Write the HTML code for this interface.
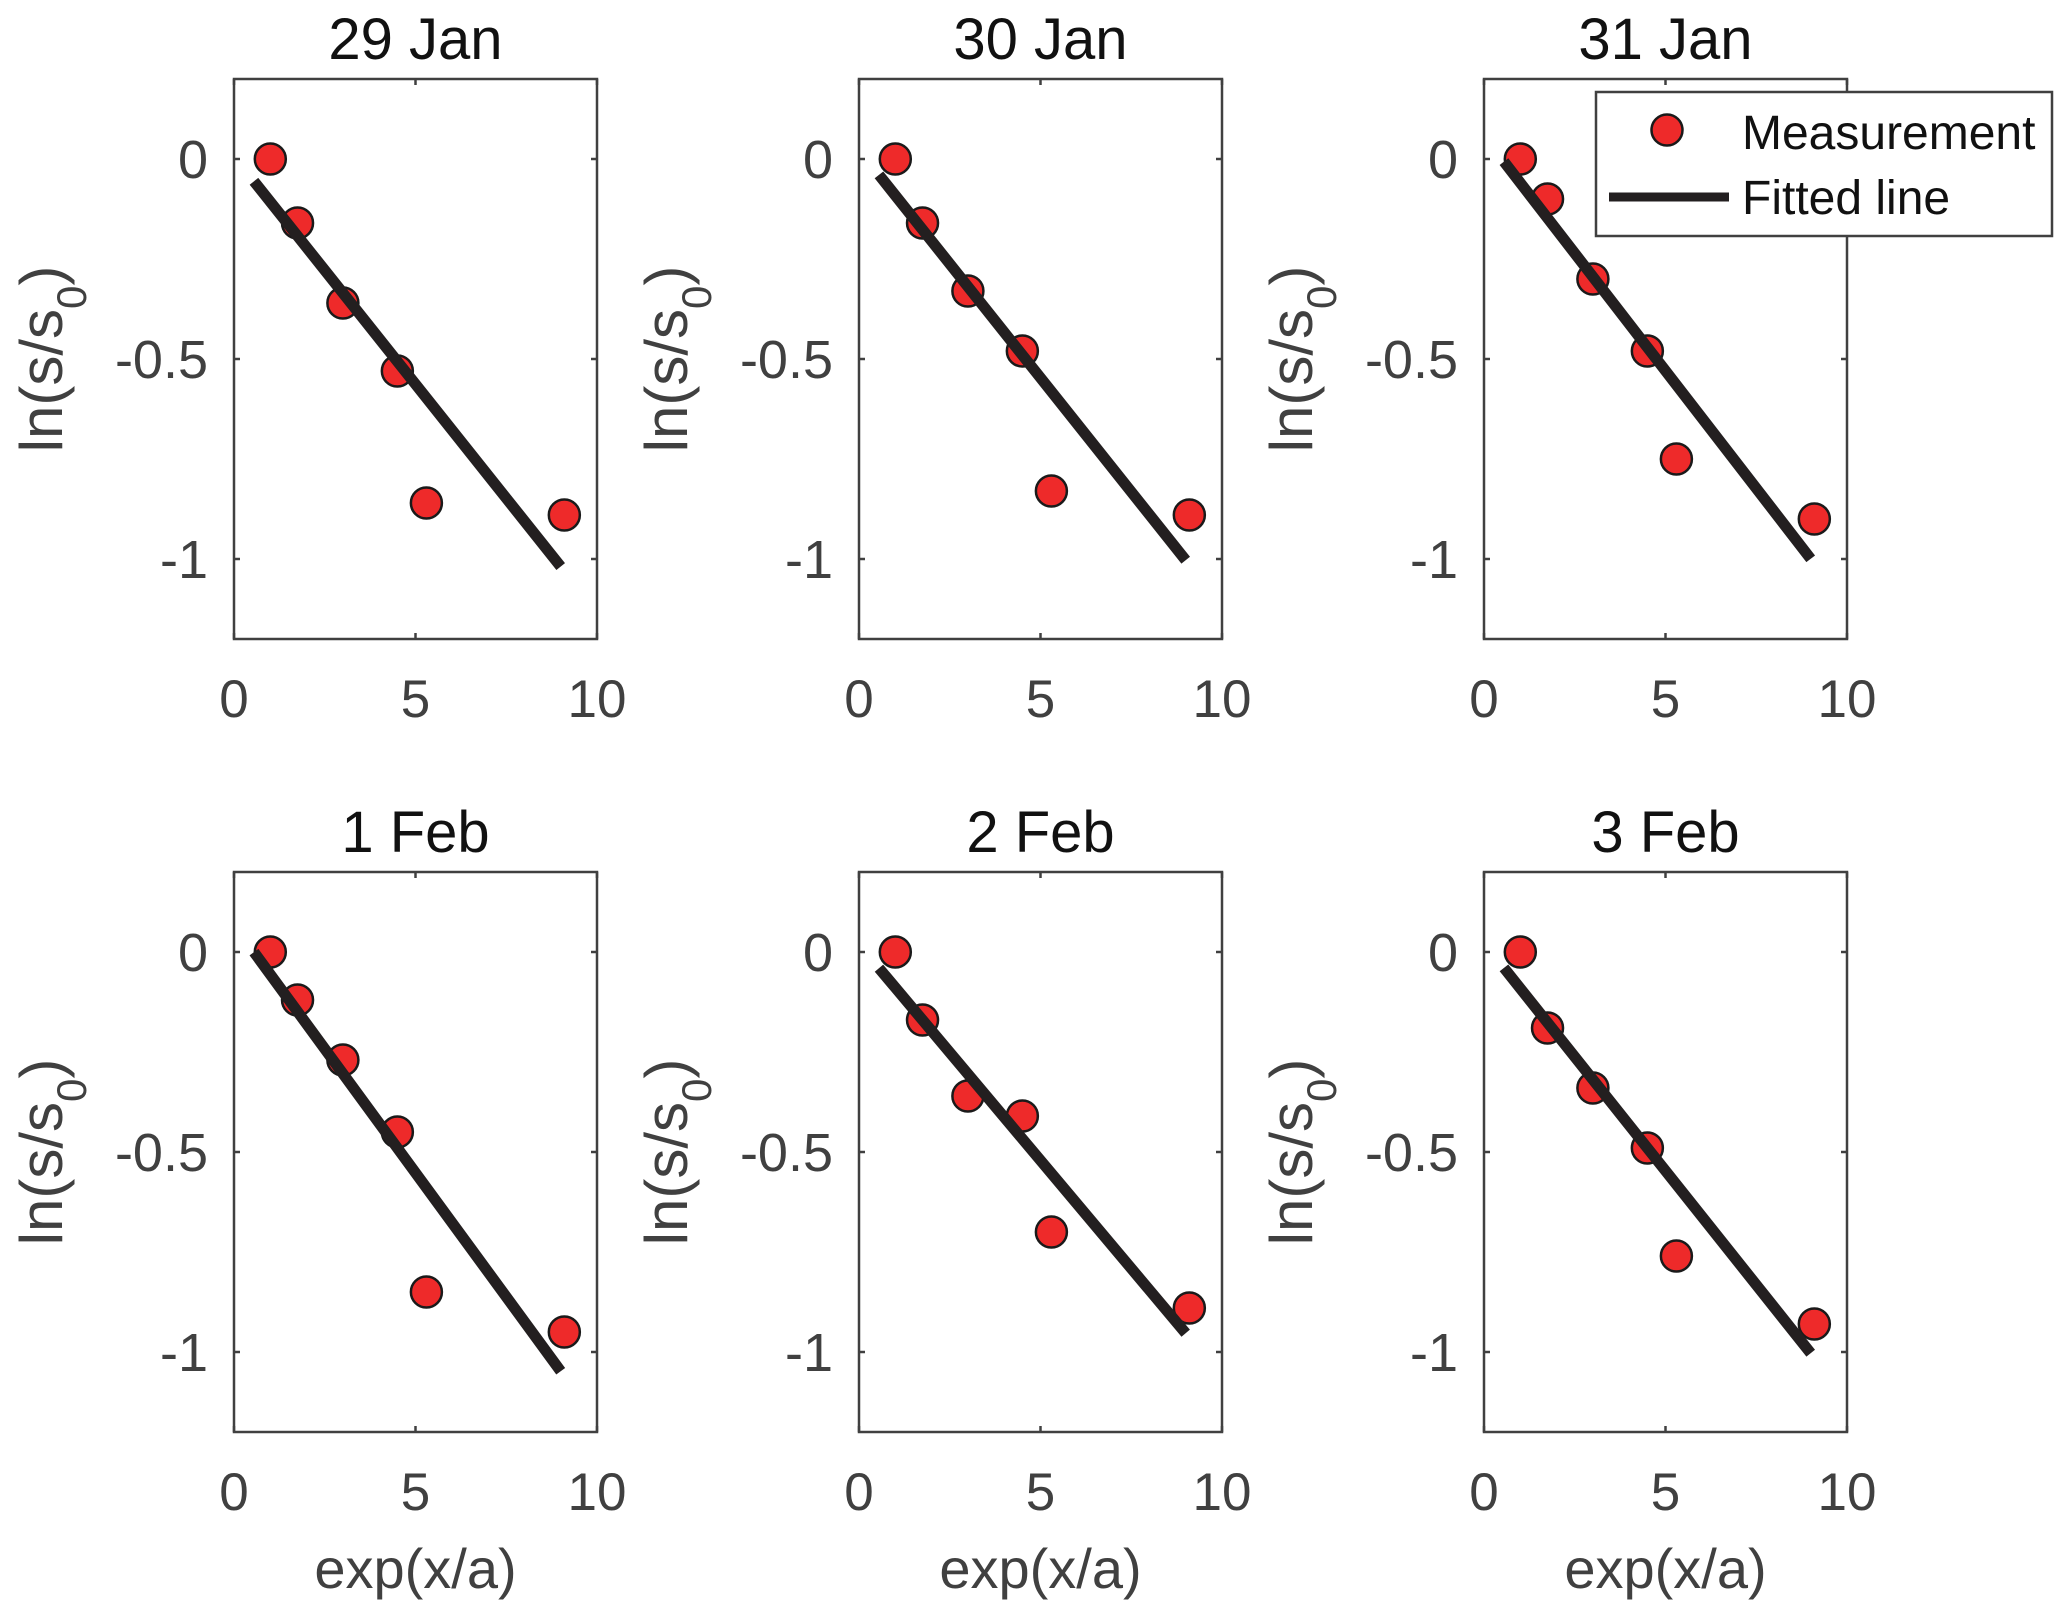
<!DOCTYPE html>
<html><head><meta charset="utf-8"><style>
html,body{margin:0;padding:0;background:#fff;}
svg{display:block;font-family:"Liberation Sans",Arial,sans-serif;}
</style></head><body>
<svg id="fig" width="2067" height="1617" viewBox="0 0 2067 1617"></svg>
<script>
const titles = ["29 Jan","30 Jan","31 Jan","1 Feb","2 Feb","3 Feb"];
const xVals = [1, 1.75, 3, 4.5, 5.3, 9.1];
const yP1 = [0, -0.16, -0.36, -0.53, -0.86, -0.89];
const yP2 = [0, -0.16, -0.33, -0.48, -0.83, -0.89];
const yP3 = [0, -0.10, -0.30, -0.48, -0.75, -0.90];
const yP4 = [0, -0.12, -0.27, -0.45, -0.85, -0.95];
const yP5 = [0, -0.17, -0.36, -0.41, -0.70, -0.89];
const yP6 = [0, -0.19, -0.34, -0.49, -0.76, -0.93];
const fitIntercepts = [0.007, 0.023, 0.058, 0.068, 0.019, 0.023];
const fitSlopes = [-0.114, -0.114, -0.1175, -0.124, -0.108, -0.114];
const fitRange = [0.55, 9.0];
const xTicks = [0, 5, 10];
const xTickLabels = ["0","5","10"];
const yTicks = [0, -0.5, -1];
const yTickLabels = ["0","-0.5","-1"];
const series = [yP1,yP2,yP3,yP4,yP5,yP6];

const NS="http://www.w3.org/2000/svg";
const svg=document.getElementById('fig');
function mk(tag,attrs,parent){const e=document.createElementNS(NS,tag);for(const k in attrs)e.setAttribute(k,attrs[k]);(parent||svg).appendChild(e);return e;}
const colL=[234,859,1484], rowT=[79,872], W=363, H=560;
const xMin=0,xMax=10,yMin=-1.2,yMax=0.2;

for(let p=0;p<6;p++){
  const c=p%3, r=Math.floor(p/3);
  const L=colL[c], T=rowT[r];
  const sx=v=>L+(v-xMin)/(xMax-xMin)*W;
  const sy=v=>T+(yMax-v)/(yMax-yMin)*H;
  const g=mk('g',{});
  
  
  const ax=mk('rect',{x:L,y:T,width:W,height:H,fill:'#fff',stroke:'#404040','stroke-width':2.5},g);
  
  
  xTicks.forEach((t,i)=>{
    const x=sx(t);
    mk('line',{x1:x,y1:T+H,x2:x,y2:T+H-6,stroke:'#404040','stroke-width':2.5},g);
    mk('line',{x1:x,y1:T,x2:x,y2:T+6,stroke:'#404040','stroke-width':2.5},g);
    const tx=mk('text',{x:x,y:T+H+78,'text-anchor':'middle','font-size':53,fill:'#404040'},g);
    tx.textContent=xTickLabels[i];
    
    
  });
  yTicks.forEach((t,i)=>{
    const y=sy(t);
    mk('line',{x1:L,y1:y,x2:L+6,y2:y,stroke:'#404040','stroke-width':2.5},g);
    mk('line',{x1:L+W,y1:y,x2:L+W-6,y2:y,stroke:'#404040','stroke-width':2.5},g);
    const ty=mk('text',{x:L-26,y:y+19,'text-anchor':'end','font-size':54,fill:'#404040'},g);
    ty.textContent=yTickLabels[i];
    
    
  });
  const ti=mk('text',{x:L+W/2,y:T-20,'text-anchor':'middle','font-size':58,fill:'#111'},g);
  ti.textContent=titles[p];
  
  
  const yl=mk('text',{x:0,y:0,'text-anchor':'middle','font-size':60,fill:'#404040',transform:`translate(${L-172},${T+H/2}) rotate(-90)`},g);
  yl.innerHTML='ln(s/s<tspan baseline-shift="sub" font-size="42">0</tspan>)';
  
  
  if(r===1){
    const xl=mk('text',{x:L+W/2,y:1588,'text-anchor':'middle','font-size':56,fill:'#404040'},g);
    xl.textContent='exp(x/a)';
    
    
  }
  const a=fitIntercepts[p], b=fitSlopes[p];
  series[p].forEach((v,i)=>{
    const pt=mk('circle',{cx:sx(xVals[i]),cy:sy(v),r:15.5,fill:'#ee2a2a',stroke:'#1a1a1a','stroke-width':2.5},g);
    
    
  });
  const ln=mk('line',{x1:sx(fitRange[0]),y1:sy(a+b*fitRange[0]),x2:sx(fitRange[1]),y2:sy(a+b*fitRange[1]),stroke:'#231f20','stroke-width':11},g);
  
  
}
const lg=mk('g',{});


mk('rect',{x:1596,y:92,width:456,height:144,fill:'#fff',stroke:'#404040','stroke-width':2.5},lg);
const lm=mk('circle',{cx:1667,cy:130,r:15.5,fill:'#ee2a2a',stroke:'#1a1a1a','stroke-width':2.5},lg);


const t1=mk('text',{x:1742,y:149,'font-size':48,fill:'#111'},lg);
t1.textContent='Measurement';


const ll=mk('line',{x1:1609,y1:197,x2:1729,y2:197,stroke:'#231f20','stroke-width':9},lg);


const t2=mk('text',{x:1742,y:214,'font-size':48,fill:'#111'},lg);
t2.textContent='Fitted line';


</script>
</body></html>
